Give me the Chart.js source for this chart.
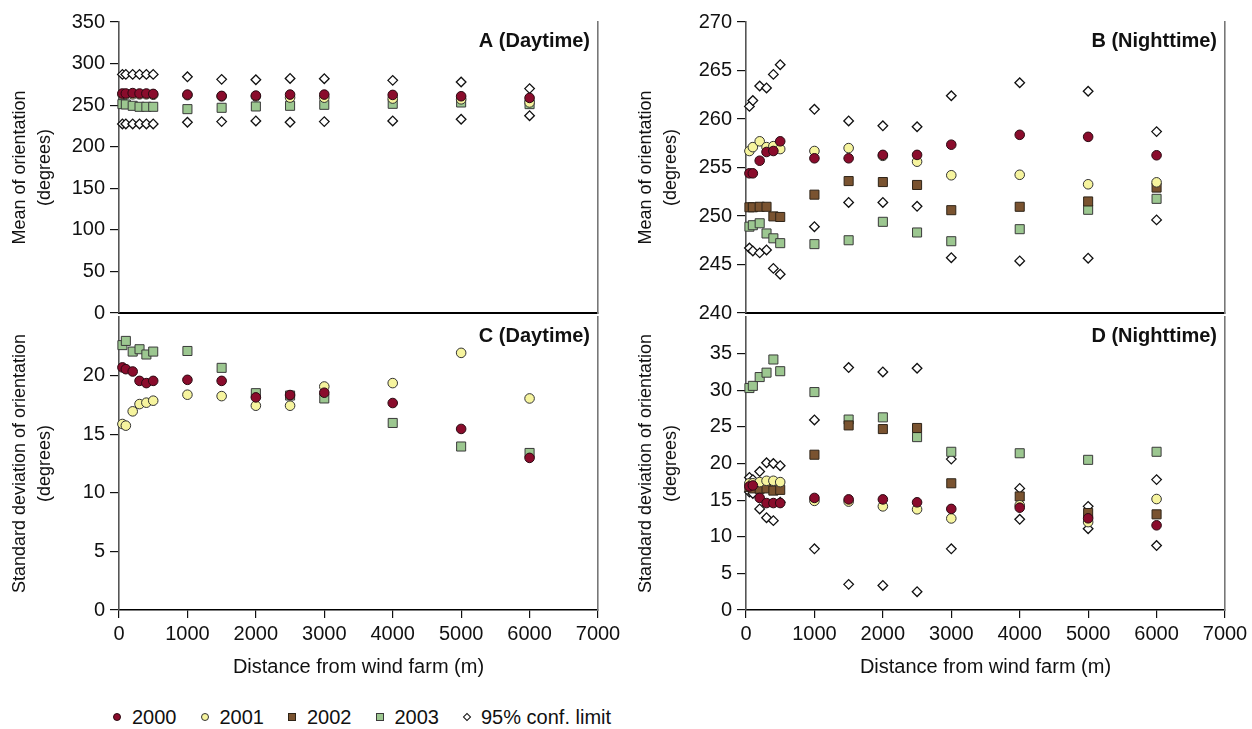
<!DOCTYPE html>
<html>
<head>
<meta charset="utf-8">
<script src="https://cdn.jsdelivr.net/npm/chart.js@4.4.1/dist/chart.umd.min.js"></script>
<style>
    html, body { margin: 0; padding: 0; background: #fff; }
    body { width: 1252px; height: 729px; position: relative; overflow: hidden; font-family: "Liberation Sans", Arial, sans-serif; }
    canvas { position: absolute; }
    #legend { position: absolute; left: 113px; top: 707px; display: flex; align-items: center; font-size: 20px; line-height: 20px; color: #111; }
    #legend .item { display: flex; align-items: center; margin-right: 24px; }
    #legend .mk { display: inline-block; box-sizing: border-box; margin-right: 11px; }
</style>
</head>
<body>
<canvas id="chartA" width="626" height="330" style="left:0;top:0"></canvas>
<canvas id="chartC" width="626" height="390" style="left:0;top:300px"></canvas>
<canvas id="chartB" width="626" height="330" style="left:626px;top:0"></canvas>
<canvas id="chartD" width="626" height="390" style="left:626px;top:300px"></canvas>
<div id="legend"></div>
<script>
'use strict';

// distancias (m)
const distances = [50, 100, 200, 300, 400, 500, 1000, 1500, 2000, 2500, 3000, 4000, 5000, 6000];
const xTicks = [0, 1000, 2000, 3000, 4000, 5000, 6000, 7000];
const seriesNames = ['2000', '2001', '2002', '2003', '95% conf. limit'];

/* A - media, dia */
const meanDay2000 = [264, 264, 264.5, 264, 264, 263.5, 262.7, 261.1, 261.5, 262.7, 262.7, 262.3, 260.7, 258.7];
const meanDay2001 = [263, 263, 263, 263, 263, 262.5, 262, 260.5, 260.5, 259.1, 259, 257.9, 257, 253.2];
const meanDay2003 = [251.2, 250.8, 249.2, 248, 248, 248, 245.2, 246.8, 248.4, 249.2, 250.4, 251.6, 253.2, 251.2];
const meanDayHigh = [287, 287, 287, 287, 287, 287, 284.1, 281, 280.5, 282.1, 281.8, 279.8, 277.8, 269.9];
const meanDayLow = [227.4, 227.4, 227.4, 227.4, 227.4, 227.4, 229.4, 230.2, 231, 229.4, 230.2, 231, 233, 237.3];

/* B - media, noche */
const meanNight2000 = [254.4, 254.4, 255.7, 256.6, 256.7, 257.7, 255.95, 255.95, 256.3, 256.3, 257.35, 258.37, 258.16, 256.26];
const meanNight2001 = [256.7, 257.1, 257.7, 257.1, 257.2, 256.9, 256.7, 257.0, 256.2, 255.6, 254.2, 254.25, 253.27, 253.47];
const meanNight2002 = [250.9, 250.9, 250.95, 250.95, 249.96, 249.9, 252.2, 253.6, 253.5, 253.2, 250.6, 250.95, 251.5, 252.93];
const meanNight2003 = [248.9, 249.05, 249.25, 248.2, 247.7, 247.2, 247.1, 247.5, 249.4, 248.3, 247.4, 248.64, 250.64, 251.77];
const meanNightHigh = [261.3, 261.9, 263.4, 263.2, 264.6, 265.6, 261.0, 259.8, 259.3, 259.2, 262.4, 263.74, 262.86, 258.7];
const meanNightLow = [246.7, 246.4, 246.2, 246.5, 244.6, 244.0, 248.9, 251.4, 251.4, 251.0, 245.7, 245.37, 245.65, 249.6];

/* C - desviacion, dia */
const sdDay2000 = [20.7, 20.55, 20.35, 19.55, 19.36, 19.55, 19.64, 19.55, 18.14, 18.34, 18.54, 17.66, 15.45, 12.98];
const sdDay2001 = [15.87, 15.73, 16.95, 17.57, 17.69, 17.86, 18.37, 18.25, 17.43, 17.43, 19.07, 19.36, 21.94, 18.05];
const sdDay2003 = [22.6, 22.96, 22.05, 22.25, 21.8, 22.05, 22.1, 20.66, 18.5, 18.3, 18.05, 15.96, 13.95, 13.4];

/* D - desviacion, noche */
const sdNight2000 = [16.87, 17.0, 15.3, 14.6, 14.6, 14.6, 15.3, 15.1, 15.1, 14.7, 13.8, 13.97, 12.52, 11.56];
const sdNight2001 = [17.3, 17.3, 17.46, 17.64, 17.64, 17.46, 14.9, 14.8, 14.15, 13.75, 12.5, 14.3, 12.0, 15.15];
const sdNight2002 = [16.8, 16.6, 16.55, 16.6, 16.3, 16.4, 21.2, 25.2, 24.7, 24.85, 17.3, 15.5, 13.24, 13.06];
const sdNight2003 = [30.3, 30.6, 31.8, 32.4, 34.2, 32.6, 29.75, 26.0, 26.3, 23.6, 21.6, 21.4, 20.5, 21.6];
const sdNightHigh = [18.1, 17.8, 18.9, 20.1, 20.0, 19.7, 25.95, 33.1, 32.5, 33.0, 20.6, 16.6, 14.15, 17.8];
const sdNightLow = [16.1, 15.9, 13.8, 12.6, 12.2, 14.7, 8.35, 3.5, 3.35, 2.5, 8.35, 12.38, 11.1, 8.8];

const FONT = '"Liberation Sans", Arial, Helvetica, sans-serif';
Chart.defaults.font.family = FONT;
Chart.defaults.color = '#111';

const styles = [
    { pointStyle: 'circle', pointRadius: 4.8, backgroundColor: '#8a0c2c', borderColor: '#2a0a12' },
    { pointStyle: 'circle', pointRadius: 4.8, backgroundColor: '#f6f49e', borderColor: '#333' },
    { pointStyle: 'rect', pointRadius: 6.4, backgroundColor: '#7a5330', borderColor: '#2e2418' },
    { pointStyle: 'rect', pointRadius: 6.4, backgroundColor: '#9cc790', borderColor: '#3a3a3a' },
    { pointStyle: 'rectRot', pointRadius: 4.8, backgroundColor: '#fff', borderColor: '#111' }
];

function points(values) {
    return distances.map((d, i) => ({ x: d, y: values[i] }));
}

function dataset(k, values) {
    const s = styles[k];
    return {
        label: seriesNames[k],
        data: values,
        pointStyle: s.pointStyle,
        pointRadius: s.pointRadius,
        pointHoverRadius: s.pointRadius,
        backgroundColor: s.backgroundColor,
        borderColor: s.borderColor,
        borderWidth: k === 4 ? 1.3 : 1,
        clip: false
    };
}

/*etiqueta del panel*/
const panelLabel = {
    id: 'panelLabel',
    afterDraw(chart, args, opts) {
        const { ctx, chartArea } = chart;
        ctx.save();
        ctx.font = 'bold 20px ' + FONT;
        ctx.fillStyle = '#111';
        ctx.textAlign = 'right';
        ctx.textBaseline = 'middle';
        ctx.fillText(opts.text, chartArea.right - 8, chartArea.top + 19);
        ctx.restore();
    }
};

function makeChart(id, cfg) {
    const bottom = cfg.bottom;
    return new Chart(document.getElementById(id), {
        type: 'scatter',
        data: { datasets: cfg.datasets },
        plugins: [panelLabel],
        options: {
            responsive: false,
            animation: false,
            events: [],
            layout: { padding: { left: 0, right: cfg.right, top: cfg.top, bottom: bottom ? 0 : 14 } },
            plugins: {
                legend: { display: false },
                tooltip: { enabled: false },
                panelLabel: { text: cfg.label }
            },
            scales: {
                x: {
                    type: 'linear',
                    min: 0,
                    max: 7000,
                    afterBuildTicks: s => { s.ticks = xTicks.map(v => ({ value: v })); },
                    ticks: {
                        display: bottom,
                        font: { size: 20 },
                        color: '#111',
                        padding: 4,
                        maxRotation: 0,
                        callback: v => String(v)
                    },
                    grid: { drawOnChartArea: false, drawTicks: bottom, tickLength: 8, color: '#111', lineWidth: 1.2 },
                    border: { display: true, color: '#000', width: bottom ? 1.5 : 2 },
                    title: {
                        display: bottom,
                        text: 'Distance from wind farm (m)',
                        font: { size: 20 },
                        color: '#111',
                        padding: { top: 4, bottom: 11 }
                    },
                    afterFit: s => { s.height = bottom ? 80 : 0; }
                },
                y: {
                    type: 'linear',
                    position: 'left',
                    min: cfg.yMin,
                    max: cfg.yMax,
                    ticks: {
                        stepSize: cfg.yStep,
                        font: { size: 20 },
                        color: '#111',
                        padding: 5,
                        callback: v => (v === cfg.yHide ? null : String(v))
                    },
                    grid: { drawOnChartArea: false, drawTicks: true, tickLength: 9, color: '#111', lineWidth: 1.2 },
                    border: { display: true, color: '#555', width: 1.6 },
                    title: {
                        display: true,
                        text: cfg.yTitle,
                        font: { size: 18, lineHeight: 1.4 },
                        color: '#111',
                        padding: { top: 7, bottom: 0 }
                    },
                    afterFit: s => { s.width = cfg.yWidth; }
                },
                yr: {
                    type: 'linear',
                    position: 'right',
                    display: true,
                    ticks: { display: false },
                    grid: { display: false, drawTicks: false },
                    border: { display: true, color: '#777', width: 1.6 },
                    afterFit: s => { s.width = 0; }
                }
            }
        }
    });
}

makeChart('chartA', {
    label: 'A (Daytime)', top: 22, right: 28, yWidth: 119, bottom: false,
    yMin: 0, yMax: 350, yStep: 50, yHide: null,
    yTitle: ['Mean of orientation', '(degrees)'],
    datasets: [
        dataset(0, points(meanDay2000)),
        dataset(1, points(meanDay2001)),
        dataset(3, points(meanDay2003)),
        dataset(4, points(meanDayHigh).concat(points(meanDayLow)))
    ]
});

makeChart('chartC', {
    label: 'C (Daytime)', top: 16, right: 28, yWidth: 119, bottom: true,
    yMin: 0, yMax: 25, yStep: 5, yHide: 25,
    yTitle: ['Standard deviation of orientation', '(degrees)'],
    datasets: [
        dataset(0, points(sdDay2000)),
        dataset(1, points(sdDay2001)),
        dataset(3, points(sdDay2003))
    ]
});

makeChart('chartB', {
    label: 'B (Nighttime)', top: 22, right: 27, yWidth: 120, bottom: false,
    yMin: 240, yMax: 270, yStep: 5, yHide: null,
    yTitle: ['Mean of orientation', '(degrees)'],
    datasets: [
        dataset(0, points(meanNight2000)),
        dataset(1, points(meanNight2001)),
        dataset(2, points(meanNight2002)),
        dataset(3, points(meanNight2003)),
        dataset(4, points(meanNightHigh).concat(points(meanNightLow)))
    ]
});

makeChart('chartD', {
    label: 'D (Nighttime)', top: 16, right: 27, yWidth: 120, bottom: true,
    yMin: 0, yMax: 40, yStep: 5, yHide: 40,
    yTitle: ['Standard deviation of orientation', '(degrees)'],
    datasets: [
        dataset(0, points(sdNight2000)),
        dataset(1, points(sdNight2001)),
        dataset(2, points(sdNight2002)),
        dataset(3, points(sdNight2003)),
        dataset(4, points(sdNightHigh).concat(points(sdNightLow)))
    ]
});

/*leyenda*/
const legend = document.getElementById('legend');
seriesNames.forEach((name, k) => {
    const s = styles[k];
    const item = document.createElement('span');
    item.className = 'item';
    const mk = document.createElement('span');
    mk.className = 'mk';
    mk.style.background = s.backgroundColor;
    mk.style.border = '1px solid ' + s.borderColor;
    if (s.pointStyle === 'circle') {
        mk.style.width = mk.style.height = '8px';
        mk.style.borderRadius = '50%';
    } else if (s.pointStyle === 'rect') {
        mk.style.width = mk.style.height = '8px';
    } else {
        mk.style.width = mk.style.height = '6px';
        mk.style.transform = 'rotate(45deg)';
        mk.style.marginLeft = '1px';
    }
    item.appendChild(mk);
    item.appendChild(document.createTextNode(name));
    legend.appendChild(item);
});
</script>
</body>
</html>
